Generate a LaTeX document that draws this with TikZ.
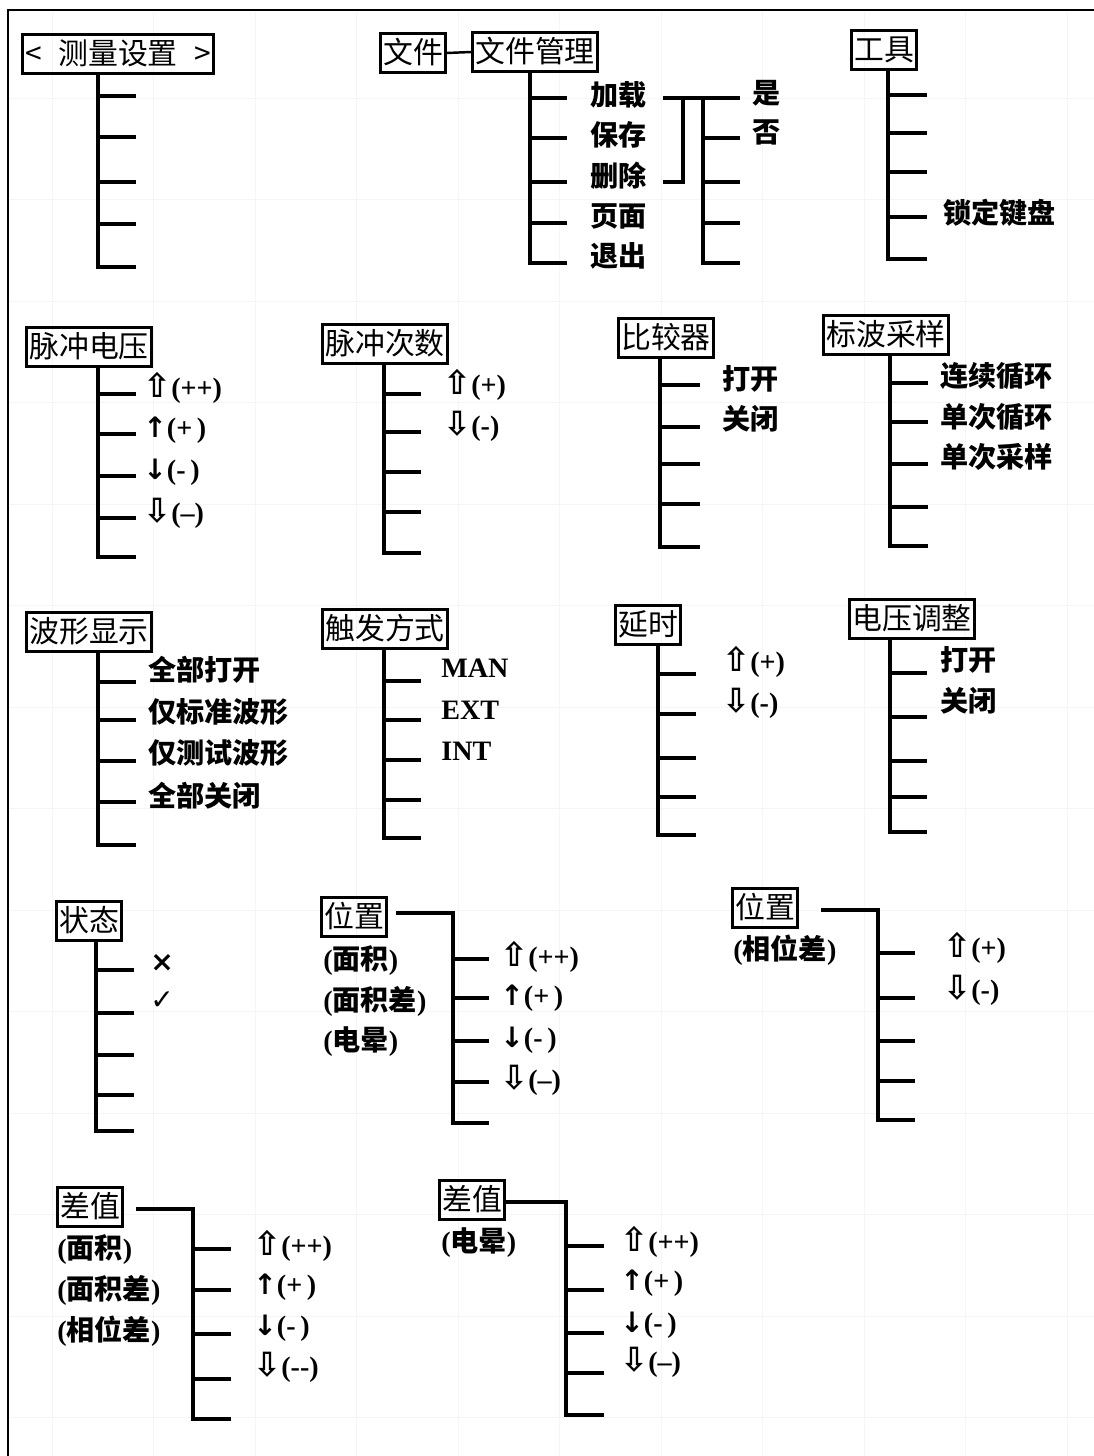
\documentclass[tikz,border=0pt]{standalone}
\usepackage{fontspec}
\setmainfont{Liberation Serif}
\newfontfamily\zhfont{Noto Sans CJK SC}
\newfontfamily\symfont{DejaVu Sans}
\newcommand{\hup}{{\symfont\bfseries\fontsize{19}{19}\selectfont ⇧}}
\newcommand{\hdown}{{\symfont\bfseries\fontsize{19}{19}\selectfont ⇩}}
\newcommand{\fup}{{\symfont\bfseries ↑}}
\newcommand{\fdown}{{\symfont\bfseries ↓}}

\tikzset{
  menu/.style={draw, line width=1.5pt, inner xsep=1.5pt, inner ysep=2pt,
    text height=15pt, text depth=3.5pt, font=\zhfont\fontsize{17}{17}\selectfont},
  stem/.style={line width=2pt},
  item/.style={anchor=west, inner sep=0pt, font=\fontsize{16}{16}\selectfont\bfseries},
  zhitem/.style={item, font=\zhfont\fontsize{16}{16}\selectfont\bfseries},
  faint/.style={black!4, line width=0.5pt}
}

\begin{document}
\begin{tikzpicture}[x=0.02cm, y=-0.02cm]
  \useasboundingbox (0,0) rectangle (1094,1456);

  % Fondo cuadriculado
  \foreach \x in {52,153.5,...,1070} \draw[faint] (\x,12) -- (\x,1456);
  \foreach \y in {98,199.5,...,1420} \draw[faint] (10,\y) -- (1094,\y);
  % Marco
  \draw[line width=1.5pt] (8,1456) -- (8,10) -- (1094,10);

  % ---------- Fila 1 ----------
  % Medida
  \node[menu, minimum width=3.64cm] (meas) at (118,54) {<\hspace{0.55em}测量设置\hspace{0.55em}>};
  \draw[stem] (98,0 |- meas.south) |- (136,267);
  \foreach \y in {96,137,182,224} \draw[stem] (98,\y) -- (136,\y);

  % Archivo
  \node[menu] (file) at (413,53) {文件};
  \node[menu] (fman) at (535,52) {文件管理};
  \draw[line width=1.4pt] (file.east) -- (fman.west);
  \draw[stem] (530,0 |- fman.south) |- (567,263);
  \foreach \y in {98,138,182,223} \draw[stem] (530,\y) -- (567,\y);
  \node[zhitem] (load) at (590,95) {加载};
  \node[zhitem] (save) at (590,135) {保存};
  \node[zhitem] (del) at (590,176) {删除};
  \node[zhitem] (page) at (590,216) {页面};
  \node[zhitem] (quit) at (590,256) {退出};
  % Corchete y respuesta
  \draw[stem] (663,98) -- (740,98);
  \draw[stem] (663,182) -| (683,98);
  \draw[stem] (703,98) |- (740,263);
  \foreach \y in {138,182,223} \draw[stem] (703,\y) -- (740,\y);
  \node[zhitem] (yes) at (752,93) {是};
  \node[zhitem] (no) at (752,132) {否};

  % Herramientas
  \node[menu] (tool) at (884,50) {工具};
  \draw[stem] (888,0 |- tool.south) |- (927,259);
  \foreach \y in {95,133,172,217} \draw[stem] (888,\y) -- (927,\y);
  \node[zhitem] (lock) at (943,213) {锁定键盘};

  % ---------- Fila 2 ----------
  % Tension del pulso
  \node[menu] (pvolt) at (89,347) {脉冲电压};
  \draw[stem] (98,0 |- pvolt.south) |- (136,557);
  \foreach \y in {394,434,476,518} \draw[stem] (98,\y) -- (136,\y);
  \node[item] (pv1) at (143,388) {\hup(++)};
  \node[item] (pv2) at (143,430) {\fup(+\,)};
  \node[item] (pv3) at (143,472) {\fdown(-\,)};
  \node[item] (pv4) at (143,513) {\hdown(–)};

  % Numero de pulsos
  \node[menu] (pcnt) at (385,344) {脉冲次数};
  \draw[stem] (384,0 |- pcnt.south) |- (421,553);
  \foreach \y in {394,432,472,512} \draw[stem] (384,\y) -- (421,\y);
  \node[item] (pc1) at (443,385) {\hup(+)};
  \node[item] (pc2) at (443,426) {\hdown(-)};

  % Comparador
  \node[menu] (comp) at (666,338) {比较器};
  \draw[stem] (660,0 |- comp.south) |- (700,547);
  \foreach \y in {385,427,464,504} \draw[stem] (660,\y) -- (700,\y);
  \node[zhitem] (cp1) at (722,379) {打开};
  \node[zhitem] (cp2) at (722,419) {关闭};

  % Muestreo
  \node[menu] (samp) at (886,335) {标波采样};
  \draw[stem] (890,0 |- samp.south) |- (928,546);
  \foreach \y in {383,422,464,507} \draw[stem] (890,\y) -- (928,\y);
  \node[zhitem] (sp1) at (940,376) {连续循环};
  \node[zhitem] (sp2) at (940,417) {单次循环};
  \node[zhitem] (sp3) at (940,457) {单次采样};

  % ---------- Fila 3 ----------
  % Forma de onda
  \node[menu] (wave) at (89,632) {波形显示};
  \draw[stem] (98,0 |- wave.south) |- (136,845);
  \foreach \y in {682,720,761,802} \draw[stem] (98,\y) -- (136,\y);
  \node[zhitem] (wv1) at (148,670) {全部打开};
  \node[zhitem] (wv2) at (148,712) {仅标准波形};
  \node[zhitem] (wv3) at (148,753) {仅测试波形};
  \node[zhitem] (wv4) at (148,796) {全部关闭};

  % Disparo
  \node[menu] (trig) at (385,629) {触发方式};
  \draw[stem] (384,0 |- trig.south) |- (421,838);
  \foreach \y in {681,720,760,800} \draw[stem] (384,\y) -- (421,\y);
  \node[item] (tg1) at (441,668) {MAN};
  \node[item] (tg2) at (441,710) {EXT};
  \node[item] (tg3) at (441,751) {INT};

  % Retardo
  \node[menu] (delay) at (648,625) {延时};
  \draw[stem] (658,0 |- delay.south) |- (696,835);
  \foreach \y in {674,714,758,797} \draw[stem] (658,\y) -- (696,\y);
  \node[item] (dl1) at (722,662) {\hup(+)};
  \node[item] (dl2) at (722,703) {\hdown(-)};

  % Ajuste de tension
  \node[menu] (vadj) at (912,619) {电压调整};
  \draw[stem] (890,0 |- vadj.south) |- (927,832);
  \foreach \y in {673,717,761,797} \draw[stem] (890,\y) -- (927,\y);
  \node[zhitem] (va1) at (940,660) {打开};
  \node[zhitem] (va2) at (940,701) {关闭};

  % ---------- Fila 4 ----------
  % Estado
  \node[menu] (state) at (89,921) {状态};
  \draw[stem] (96,0 |- state.south) |- (134,1131);
  \foreach \y in {970,1013,1055,1095} \draw[stem] (96,\y) -- (134,\y);
  \node[item] (st1) at (150,963) {{\symfont\bfseries ×}};
  \node[item] (st2) at (150,1001) {{\symfont ✓}};

  % Posicion
  \node[menu] (pos) at (354,917) {位置};
  \draw[stem] (396,913) -| (453,1123) -- (489,1123);
  \foreach \y in {959,998,1041,1082} \draw[stem] (453,\y) -- (489,\y);
  \node[item] (ps1) at (500,957) {\hup(++)};
  \node[item] (ps2) at (500,998) {\fup(+\,)};
  \node[item] (ps3) at (500,1040) {\fdown(-\,)};
  \node[item] (ps4) at (500,1080) {\hdown(–)};
  \node[item] (pa1) at (323,961) {({\zhfont 面积})};
  \node[item] (pa2) at (323,1001) {({\zhfont 面积差})};
  \node[item] (pa3) at (323,1042) {({\zhfont 电晕})};

  % Posicion (fase)
  \node[menu] (pos2) at (765,908) {位置};
  \draw[stem] (821,910) -| (878,1120) -- (915,1120);
  \foreach \y in {953,998,1041,1081} \draw[stem] (878,\y) -- (915,\y);
  \node[item] (pf1) at (943,948) {\hup(+)};
  \node[item] (pf2) at (943,990) {\hdown(-)};
  \node[item] (pb1) at (733,950) {({\zhfont 相位差})};

  % ---------- Fila 5 ----------
  % Diferencia
  \node[menu] (diff) at (90,1207) {差值};
  \draw[stem] (136,1209) -| (193,1419) -- (231,1419);
  \foreach \y in {1249,1290,1334,1379} \draw[stem] (193,\y) -- (231,\y);
  \node[item] (df1) at (253,1246) {\hup(++)};
  \node[item] (df2) at (253,1287) {\fup(+\,)};
  \node[item] (df3) at (253,1328) {\fdown(-\,)};
  \node[item] (df4) at (253,1367) {\hdown(-{}-)};
  \node[item] (da1) at (57,1250) {({\zhfont 面积})};
  \node[item] (da2) at (57,1290) {({\zhfont 面积差})};
  \node[item] (da3) at (57,1331) {({\zhfont 相位差})};

  % Diferencia (corona)
  \node[menu] (diff2) at (472,1200) {差值};
  \draw[stem] (diff2.east |- 0,1202) -| (566,1415) -- (604,1415);
  \foreach \y in {1246,1290,1333,1373} \draw[stem] (566,\y) -- (604,\y);
  \node[item] (dc1) at (620,1242) {\hup(++)};
  \node[item] (dc2) at (620,1283) {\fup(+\,)};
  \node[item] (dc3) at (620,1325) {\fdown(-\,)};
  \node[item] (dc4) at (620,1362) {\hdown(–)};
  \node[item] (db1) at (441,1243) {({\zhfont 电晕})};
\end{tikzpicture}
\end{document}
